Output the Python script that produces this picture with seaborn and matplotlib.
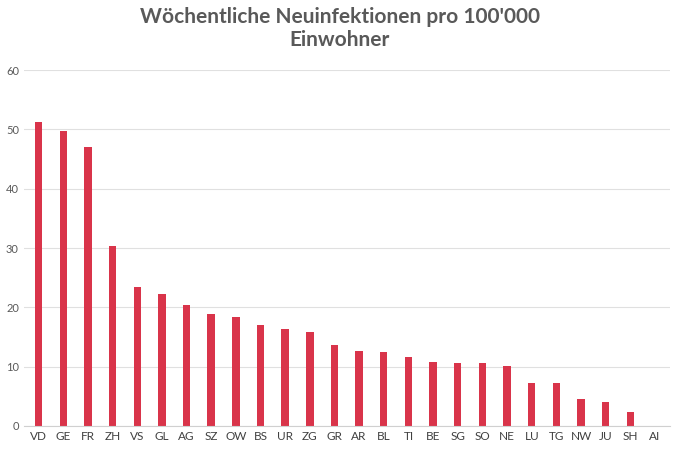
import matplotlib
matplotlib.use("Agg")
import pandas as pd
import seaborn as sns
import matplotlib.pyplot as plt

cantons = ["VD", "GE", "FR", "ZH", "VS", "GL", "AG", "SZ", "OW", "BS", "UR", "ZG", "GR",
           "AR", "BL", "TI", "BE", "SG", "SO", "NE", "LU", "TG", "NW", "JU", "SH", "AI"]
values = [51.3, 49.8, 47.1, 30.4, 23.5, 22.3, 20.4, 18.9, 18.4, 17.0, 16.4, 15.8, 13.6,
          12.6, 12.4, 11.6, 10.7, 10.6, 10.6, 10.1, 7.3, 7.2, 4.6, 4.1, 2.4, 0]

df = pd.DataFrame({"canton": cantons, "value": values})

plt.rcParams["font.family"] = "Lato"
fig, ax = plt.subplots(figsize=(6.8, 4.53), dpi=100)
sns.barplot(data=df, x="canton", y="value", color="#d9344a", saturation=1, width=0.3, ax=ax)

ax.set_ylim(0, 60)
ax.set_yticks(range(0, 61, 10))
ax.set_xlim(-0.6, len(cantons) - 0.4)
ax.yaxis.grid(True, color="#e0e0e0", linewidth=0.8)
ax.set_axisbelow(True)
for s in ["top", "right", "left"]:
    ax.spines[s].set_visible(False)
ax.spines["bottom"].set_color("#d0d0d0")
ax.tick_params(axis="y", length=0, labelsize=8, labelcolor="#595959")
ax.tick_params(axis="x", length=0, labelsize=8.5, labelcolor="#404040")
ax.set_xlabel("")
ax.set_ylabel("")
fig.suptitle("Wöchentliche Neuinfektionen pro 100'000\nEinwohner", fontsize=15,
             fontweight="bold", color="#595959", y=0.985, linespacing=1.2)
fig.subplots_adjust(left=0.035, right=0.985, top=0.845, bottom=0.06)
fig.savefig("out.png")
